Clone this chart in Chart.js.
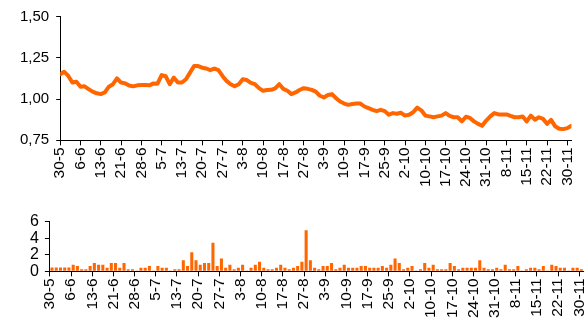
<!DOCTYPE html>
<html>
<head>
<meta charset="utf-8">
<script src="https://cdn.jsdelivr.net/npm/chart.js@4.4.1/dist/chart.umd.min.js"></script>
<style>
    html, body { margin: 0; padding: 0; background: #fff; }
    body { width: 588px; height: 322px; overflow: hidden; position: relative; }
    #price-box { position: absolute; left: 0; top: 0; width: 588px; height: 192px; }
    #volume-box { position: absolute; left: 0; top: 200px; width: 600px; height: 122px; }
</style>
</head>
<body>
<div id="price-box"><canvas id="price-canvas" width="588" height="192"></canvas></div>
<div id="volume-box"><canvas id="volume-canvas" width="600" height="122"></canvas></div>
<script>
// axis labels, one every 5 trading days
const tickLabels = ['30-5', '6-6', '13-6', '21-6', '28-6', '5-7', '13-7', '20-7', '27-7', '3-8',
    '10-8', '17-8', '27-8', '3-9', '10-9', '17-9', '25-9', '2-10', '10-10', '17-10',
    '24-10', '31-10', '8-11', '15-11', '22-11', '30-11'];

// daily price
const price = [
    1.150, 1.165, 1.140, 1.100, 1.105, 1.075, 1.077, 1.060, 1.045, 1.035,
    1.030, 1.040, 1.075, 1.090, 1.125, 1.100, 1.095, 1.082, 1.077, 1.083,
    1.085, 1.085, 1.083, 1.095, 1.093, 1.145, 1.138, 1.090, 1.130, 1.100,
    1.100, 1.120, 1.160, 1.200, 1.200, 1.190, 1.185, 1.175, 1.185, 1.175,
    1.140, 1.110, 1.090, 1.077, 1.090, 1.120, 1.115, 1.098, 1.090, 1.066,
    1.050, 1.055, 1.056, 1.065, 1.090, 1.062, 1.050, 1.030, 1.040, 1.055,
    1.066, 1.062, 1.056, 1.045, 1.020, 1.010, 1.025, 1.030, 1.005, 0.985,
    0.973, 0.965, 0.970, 0.973, 0.973, 0.955, 0.945, 0.935, 0.927, 0.935,
    0.927, 0.905, 0.915, 0.911, 0.917, 0.900, 0.905, 0.920, 0.948, 0.932,
    0.900, 0.895, 0.890, 0.895, 0.900, 0.915, 0.898, 0.890, 0.890, 0.865,
    0.893, 0.886, 0.865, 0.850, 0.838, 0.870, 0.895, 0.915, 0.907, 0.907,
    0.907, 0.898, 0.890, 0.890, 0.895, 0.865, 0.900, 0.875, 0.890, 0.880,
    0.850, 0.874, 0.835, 0.820, 0.818, 0.824, 0.838
];

// daily volume
const volume = [
    0.45, 0.45, 0.45, 0.45, 0.45, 0.80, 0.65, 0.25, 0.25, 0.65,
    1.00, 0.80, 0.80, 0.42, 1.00, 1.00, 0.42, 1.00, 0.25, 0.25,
    0.05, 0.42, 0.42, 0.65, 0.10, 0.65, 0.42, 0.42, 0.05, 0.25,
    0.25, 1.35, 0.65, 2.30, 1.35, 0.80, 1.00, 1.00, 3.45, 0.65,
    1.55, 0.42, 0.80, 0.25, 0.42, 0.80, 0.05, 0.42, 0.80, 1.15,
    0.42, 0.25, 0.25, 0.42, 0.80, 0.42, 0.25, 0.42, 0.65, 1.15,
    4.95, 1.35, 0.42, 0.25, 0.65, 0.65, 1.00, 0.25, 0.42, 0.80,
    0.42, 0.42, 0.42, 0.65, 0.65, 0.42, 0.42, 0.42, 0.65, 0.42,
    0.80, 1.55, 1.00, 0.25, 0.42, 0.65, 0.05, 0.25, 1.00, 0.42,
    0.80, 0.25, 0.25, 0.25, 1.00, 0.65, 0.25, 0.42, 0.42, 0.42,
    0.42, 1.35, 0.42, 0.25, 0.25, 0.42, 0.25, 0.80, 0.25, 0.25,
    0.65, 0.05, 0.25, 0.42, 0.42, 0.25, 0.65, 0.05, 0.80, 0.65,
    0.42, 0.42, 0.05, 0.42, 0.42, 0.25
];

const orange = '#FF6600';
const fontFamily = '"Liberation Sans", Arial, sans-serif';

Chart.defaults.font.family = fontFamily;
Chart.defaults.color = '#000';

// x axis shared by both panels: day index, labelled every 5th day
function dayAxis(fontSize) {
    return {
        type: 'linear',
        min: 0,
        max: 126,
        offset: false,
        afterBuildTicks: function (axis) {
            axis.ticks = tickLabels.map((_, k) => ({ value: k * 5 }));
        },
        ticks: {
            autoSkip: false,
            maxRotation: 90,
            minRotation: 90,
            padding: 2,
            font: { size: fontSize },
            callback: function (value) {
                return tickLabels[value / 5];
            }
        },
        grid: {
            drawOnChartArea: false,
            drawTicks: true,
            tickLength: 5,
            color: '#000',
            offset: false
        },
        border: { display: true, color: '#000', width: 1 }
    };
}

new Chart(document.getElementById('price-canvas'), {
    type: 'line',
    data: {
        datasets: [{
            data: price.map((v, i) => ({ x: i, y: v })),
            borderColor: orange,
            borderWidth: 4,
            borderJoinStyle: 'round',
            borderCapStyle: 'round',
            pointRadius: 0,
            tension: 0,
            fill: false
        }]
    },
    options: {
        responsive: false,
        animation: false,
        layout: { padding: { left: 13, right: 8, top: 16.5, bottom: 3 } },
        plugins: { legend: { display: false }, tooltip: { enabled: false } },
        scales: {
            x: dayAxis(15.5),
            y: {
                min: 0.75,
                max: 1.5,
                ticks: {
                    stepSize: 0.25,
                    autoSkip: false,
                    padding: 7,
                    font: { size: 15 },
                    callback: v => v.toFixed(2).replace('.', ',')
                },
                grid: { drawOnChartArea: false, tickLength: 4, color: '#000' },
                border: { display: true, color: '#000', width: 1 }
            }
        }
    }
});

new Chart(document.getElementById('volume-canvas'), {
    type: 'bar',
    data: {
        datasets: [{
            data: volume.map((v, i) => ({ x: i + 0.5, y: v })),
            backgroundColor: orange,
            borderWidth: 0,
            barPercentage: 0.72,
            categoryPercentage: 1
        }]
    },
    options: {
        responsive: false,
        animation: false,
        layout: { padding: { left: 24, right: 12, top: 21.5, bottom: 2 } },
        plugins: { legend: { display: false }, tooltip: { enabled: false } },
        scales: {
            x: dayAxis(15.5),
            y: {
                min: 0,
                max: 6,
                ticks: { stepSize: 2, autoSkip: false, padding: 6, font: { size: 16 } },
                grid: { drawOnChartArea: false, tickLength: 5, color: '#000' },
                border: { display: true, color: '#000', width: 1 }
            }
        }
    }
});
</script>
</body>
</html>
